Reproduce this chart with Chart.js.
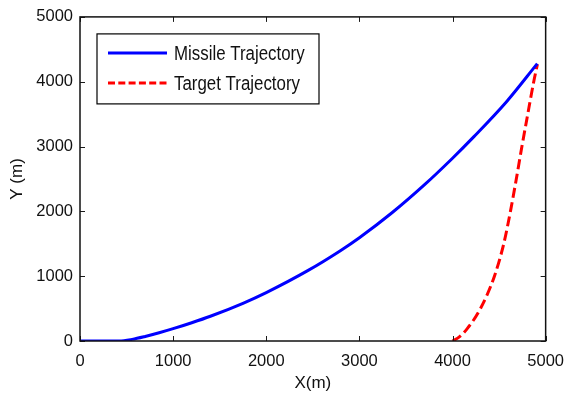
<!DOCTYPE html>
<html>
<head>
<meta charset="utf-8">
<script src="https://cdn.jsdelivr.net/npm/chart.js@4.4.1/dist/chart.umd.min.js"></script>
<style>
  html, body { margin: 0; padding: 0; background: #ffffff; }
  #wrap { width: 575px; height: 400px; }
</style>
</head>
<body>
<div id="wrap"><canvas id="c" width="575" height="400"></canvas></div>
<script>
// Missile and target paths in the X-Y plane (metres)
const missileX = [0, 200, 420, 560, 700, 850, 1000, 1200, 1400, 1750, 2000, 2450, 2800, 3000, 3350, 3700, 4000, 4230, 4580, 4910];
const missileY = [0, 0, 0, 25, 70, 127, 190, 282, 382, 582, 747, 1089, 1397, 1593, 1978, 2412, 2820, 3153, 3692, 4279];

const targetX = [4000, 4070, 4158, 4300, 4450, 4550, 4622, 4685, 4745, 4808, 4872, 4912];
const targetY = [0, 60, 190, 500, 1000, 1500, 2000, 2500, 3000, 3500, 4000, 4270];

const xTicks = [0, 1000, 2000, 3000, 4000, 5000];
const yTicks = [0, 1000, 2000, 3000, 4000, 5000];
const seriesNames = ['Missile Trajectory', 'Target Trajectory'];
const xTitle = 'X(m)';
const yTitle = 'Y (m)';

const toPoints = (xs, ys) => xs.map((x, i) => ({ x: x, y: ys[i] }));

Chart.defaults.font.family = "'Liberation Sans', Arial, Helvetica, sans-serif";
Chart.defaults.color = '#000000';

// Box around the axes with inward tick marks on all four sides
const frameTicks = {
  id: 'frameTicks',
  afterDatasetsDraw(chart) {
    const { ctx, chartArea: a, scales } = chart;
    ctx.save();
    ctx.strokeStyle = '#1a1a1a';
    ctx.lineWidth = 1;
    const len = 5;
    ctx.beginPath();
    xTicks.forEach(v => {
      const px = Math.round(scales.x.getPixelForValue(v)) + 0.5;
      ctx.moveTo(px, a.bottom); ctx.lineTo(px, a.bottom - len);
      ctx.moveTo(px, a.top); ctx.lineTo(px, a.top + len);
    });
    yTicks.forEach(v => {
      const py = Math.round(scales.y.getPixelForValue(v)) + 0.5;
      ctx.moveTo(a.left, py); ctx.lineTo(a.left + len, py);
      ctx.moveTo(a.right, py); ctx.lineTo(a.right - len, py);
    });
    ctx.stroke();
    ctx.lineWidth = 1.5;
    ctx.strokeStyle = '#111111';
    ctx.strokeRect(a.left, a.top, a.right - a.left, a.bottom - a.top);
    ctx.restore();
  }
};

// Boxed legend in the upper-left corner of the axes, set in a condensed face
const boxLegend = {
  id: 'boxLegend',
  afterDraw(chart) {
    const { ctx, chartArea: a } = chart;
    const x0 = a.left + 17, y0 = a.top + 17, w = 222, h = 70;
    ctx.save();
    ctx.fillStyle = '#ffffff';
    ctx.fillRect(x0, y0, w, h);
    ctx.strokeStyle = '#000000';
    ctx.lineWidth = 1.2;
    ctx.strokeRect(x0, y0, w, h);
    ctx.font = "20px 'Liberation Sans', Arial, sans-serif";
    const sx = 126 / ctx.measureText(seriesNames[1]).width;
    chart.data.datasets.forEach((ds, i) => {
      const cy = y0 + 19 + i * 30;
      ctx.beginPath();
      ctx.strokeStyle = ds.borderColor;
      ctx.lineWidth = 3;
      ctx.setLineDash(ds.borderDash && ds.borderDash.length ? [7, 3.3] : []);
      ctx.moveTo(x0 + 11, cy);
      ctx.lineTo(x0 + 70, cy);
      ctx.stroke();
      ctx.setLineDash([]);
      ctx.save();
      ctx.translate(x0 + 77, cy + 1.5);
      ctx.scale(sx, 1);
      ctx.fillStyle = '#111111';
      ctx.textBaseline = 'middle';
      ctx.fillText(ds.label, 0, 0);
      ctx.restore();
    });
    ctx.restore();
  }
};

const plainNumber = v => String(v);

new Chart(document.getElementById('c'), {
  type: 'scatter',
  data: {
    datasets: [
      {
        label: seriesNames[0],
        data: toPoints(missileX, missileY),
        showLine: true,
        borderColor: '#0000ff',
        backgroundColor: '#0000ff',
        borderWidth: 3,
        pointRadius: 0,
        cubicInterpolationMode: 'monotone'
      },
      {
        label: seriesNames[1],
        data: toPoints(targetX, targetY),
        showLine: true,
        borderColor: '#ff0000',
        backgroundColor: '#ff0000',
        borderWidth: 3,
        borderDash: [10, 4.5],
        pointRadius: 0,
        cubicInterpolationMode: 'monotone'
      }
    ]
  },
  options: {
    responsive: false,
    animation: false,
    devicePixelRatio: 1,
    layout: { padding: { top: 16, right: 21, left: 0, bottom: 0 } },
    plugins: {
      legend: { display: false },
      tooltip: { enabled: false }
    },
    scales: {
      x: {
        type: 'linear',
        min: 0, max: 5000,
        afterBuildTicks(scale) { scale.ticks = xTicks.map(v => ({ value: v })); },
        afterFit(scale) { scale.height = 59; },
        grid: { display: false, drawTicks: false },
        border: { display: false },
        ticks: { padding: 11, font: { size: 16.5 }, color: '#111111', maxRotation: 0, callback: plainNumber },
        title: { display: true, text: xTitle, font: { size: 17 }, color: '#111111', padding: { top: 0, bottom: 6 } }
      },
      y: {
        type: 'linear',
        min: 0, max: 5000,
        afterBuildTicks(scale) { scale.ticks = yTicks.map(v => ({ value: v })); },
        afterFit(scale) { scale.width = 80; },
        grid: { display: false, drawTicks: false },
        border: { display: false },
        ticks: { padding: 7, font: { size: 16.5 }, color: '#111111', callback: plainNumber },
        title: { display: true, text: yTitle, font: { size: 17 }, color: '#111111', padding: { top: 7, bottom: 0 } }
      }
    }
  },
  plugins: [frameTicks, boxLegend]
});
</script>
</body>
</html>
